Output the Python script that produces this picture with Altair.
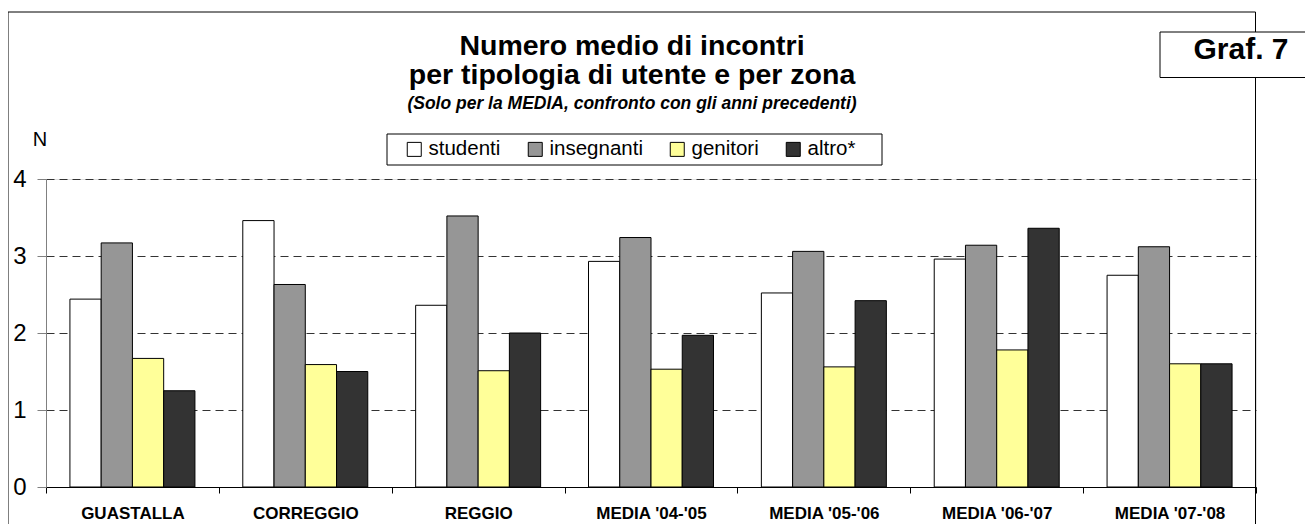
import altair as alt
import pandas as pd

# ---------------- data ----------------
categories = ["GUASTALLA", "CORREGGIO", "REGGIO", "MEDIA '04-'05",
              "MEDIA '05-'06", "MEDIA '06-'07", "MEDIA '07-'08"]
series = ["studenti", "insegnanti", "genitori", "altro*"]
studenti = [2.44, 3.46, 2.36, 2.93, 2.52, 2.96, 2.75]
insegnanti = [3.17, 2.63, 3.52, 3.24, 3.06, 3.14, 3.12]
genitori = [1.67, 1.59, 1.51, 1.53, 1.56, 1.78, 1.60]
altro = [1.25, 1.50, 2.00, 1.97, 2.42, 3.36, 1.60]
y_ticks = [0, 1, 2, 3, 4]
colors = ["#FFFFFF", "#969696", "#FFFF99", "#333333"]

title1 = "Numero medio di incontri"
title2 = "per tipologia di utente e per zona"
subtitle = "(Solo per la MEDIA, confronto con gli anni precedenti)"
y_label = "N"
badge = "Graf. 7"

rows = []
for s, vals in zip(series, [studenti, insegnanti, genitori, altro]):
    for c, v in zip(categories, vals):
        rows.append({"zona": c, "tipo": s, "N": v})
df = pd.DataFrame(rows)

# ---------------- layout (page pixels) ----------------
FONT = "Liberation Sans"
W, H = 1210, 308
OX, OY = 46, 179  # plot-area origin on the page


def px(x):
    return x - OX


def py(y):
    return y - OY


one = alt.Data(values=[{"a": 1}])

bars = alt.Chart(df).mark_bar(stroke="black", strokeWidth=1).encode(
    x=alt.X("zona:N", sort=categories, title=None,
            scale=alt.Scale(paddingInner=0, paddingOuter=0),
            axis=alt.Axis(labelAngle=0, labelFont=FONT, labelFontSize=17,
                          labelFontWeight="bold", labelColor="black",
                          labelPadding=12, tickSize=6, tickColor="black",
                          domainColor="black", tickBand="extent", grid=False)),
    xOffset=alt.XOffset("tipo:N", sort=series,
                        scale=alt.Scale(paddingInner=0, paddingOuter=0.766)),
    y=alt.Y("N:Q", title=None,
            scale=alt.Scale(domain=[0, 4], nice=False),
            axis=alt.Axis(values=y_ticks, format="d", labelFont=FONT,
                          labelFontSize=24, labelColor="black",
                          labelPadding=11, tickSize=9, tickColor="#808080",
                          domainColor="#808080", grid=True,
                          gridColor="#333333", gridDash=[8, 5])),
    fill=alt.Fill("tipo:N", sort=series,
                  scale=alt.Scale(domain=series, range=colors),
                  legend=alt.Legend(orient="none", legendX=px(404),
                                    legendY=py(139), direction="horizontal",
                                    title=None, symbolType="square",
                                    symbolSize=196, symbolStrokeColor="black",
                                    symbolStrokeWidth=1, labelFont=FONT,
                                    labelFontSize=20.5, labelColor="black",
                                    labelOffset=4, columnPadding=24,
                                    labelLimit=300, padding=0)),
)


def text(t, x, y, size, weight="normal", style="normal", align="center"):
    return alt.Chart(one).mark_text(
        text=t, font=FONT, fontSize=size, fontWeight=weight, fontStyle=style,
        align=align, baseline="middle", color="black"
    ).encode(x=alt.value(px(x)), y=alt.value(py(y)))


def box(x1, y1, x2, y2, fill_op=0.0):
    return alt.Chart(one).mark_rect(
        fill="white", fillOpacity=fill_op, stroke="black", strokeWidth=1
    ).encode(x=alt.value(px(x1)), x2=alt.value(px(x2)),
             y=alt.value(py(y1)), y2=alt.value(py(y2)))


frame = box(8, 12, 1255.5, 540)
legend_box = box(387, 134, 882, 165)
badge_box = box(1160, 32, 1330, 77.5, fill_op=1.0)

chart = alt.layer(
    frame,
    legend_box,
    bars,
    text(title1, 632, 46, 28.5, weight="bold"),
    text(title2, 632, 75, 28.5, weight="bold"),
    text(subtitle, 632, 104, 17.5, weight="bold", style="italic"),
    text(y_label, 40, 140, 20),
    badge_box,
    text(badge, 1241, 50, 30, weight="bold"),
).properties(
    width=W, height=H,
    padding={"left": OX - 8, "top": OY - 8, "right": 1305 - (OX + W),
             "bottom": 516 - (OY - 8) - H},
    autosize=alt.AutoSizeParams(type="none"),
).configure_view(stroke=None).configure(background="white")

chart.save("out.html", embed_options={"renderer": "svg", "actions": False})
